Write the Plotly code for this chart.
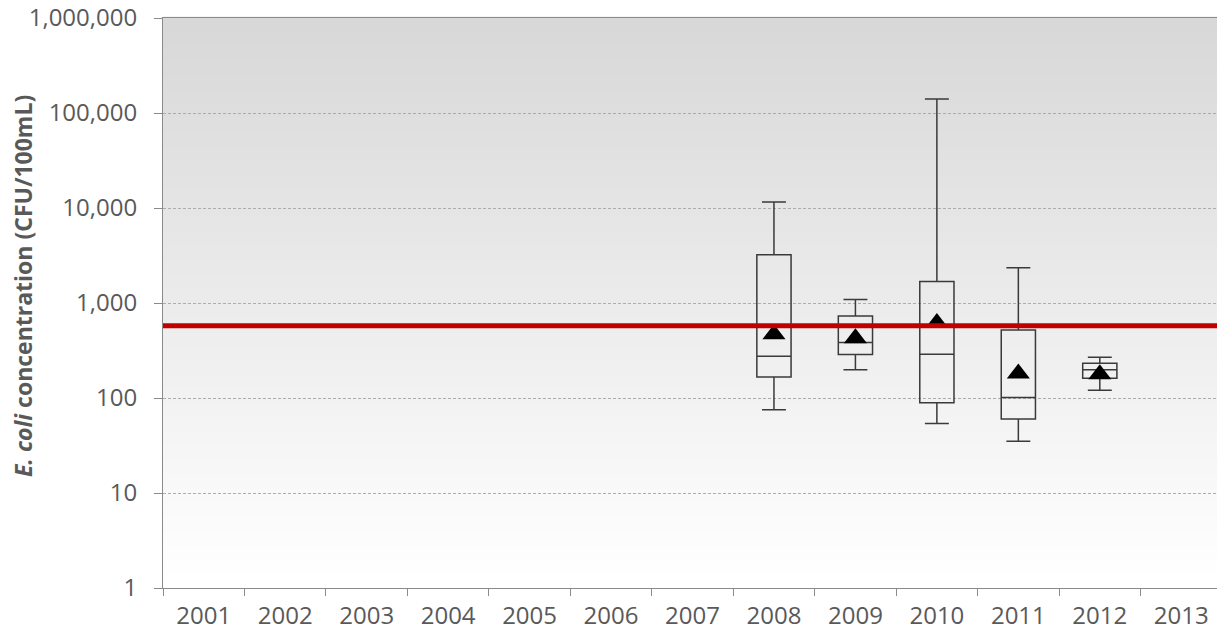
import plotly.graph_objects as go

years = [str(y) for y in range(2001, 2014)]
box_years = ["2008", "2009", "2010", "2011", "2012"]
whisker_low = [75, 198, 54, 35, 121]
q1 = [166, 287, 89, 60, 161]
median = [275, 383, 289, 101, 198]
q3 = [3220, 728, 1680, 519, 232]
whisker_high = [11600, 1090, 140000, 2350, 269]
means = [470, 425, 615, 181, 178]
threshold = 576

ytick_vals = [1, 10, 100, 1000, 10000, 100000, 1000000]
ytick_text = ["1", "10", "100", "1,000", "10,000", "100,000", "1,000,000"]

fig = go.Figure()

fig.add_trace(go.Box(
    x=box_years, q1=q1, median=median, q3=q3,
    lowerfence=whisker_low, upperfence=whisker_high,
    fillcolor="rgba(0,0,0,0)", line=dict(color="#3a3a3a", width=1.5),
    whiskerwidth=0.7, width=0.42, boxpoints=False, showlegend=False,
    hoverinfo="skip",
))

fig.add_trace(go.Scatter(
    x=box_years, y=means, mode="markers",
    marker=dict(symbol="triangle-up", size=20, color="black"),
    showlegend=False, hoverinfo="skip",
))

# gradient background strips
n = 80
shapes = []
for i in range(n):
    frac = i / (n - 1)
    g = int(round(216 + (255 - 216) * (1 - frac)))
    shapes.append(dict(
        type="rect", xref="paper", yref="paper",
        x0=0, x1=1, y0=i / n, y1=(i + 1) / n + 0.002,
        fillcolor=f"rgb({g},{g},{g})", line=dict(width=0), layer="below",
    ))
shapes.append(dict(
    type="line", xref="paper", yref="y", x0=0, x1=1,
    y0=threshold, y1=threshold, line=dict(color="#c00000", width=5), layer="above",
))

fig.update_layout(
    width=1217, height=629,
    margin=dict(l=155, r=3, t=10, b=49, autoexpand=False),
    paper_bgcolor="white", plot_bgcolor="white",
    shapes=shapes,
    font=dict(family="Open Sans", color="#595959", size=24),
    annotations=[dict(
        text="<b><i>E. coli</i> concentration (CFU/100mL)</b>",
        xref="paper", yref="paper", x=-0.132, y=0.53, textangle=-90,
        showarrow=False, font=dict(size=23, color="#595959"),
        xanchor="center", yanchor="middle",
    )],
)

fig.update_xaxes(
    type="category", categoryorder="array", categoryarray=years,
    range=[-0.5, 12.5], tickson="boundaries", ticks="outside", ticklen=7,
    tickcolor="#8a8a8a", showline=True, linecolor="#8a8a8a", linewidth=1,
    mirror=True, showgrid=False, automargin=False, ticklabelstandoff=6,
    tickfont=dict(size=24, color="#595959"),
)

fig.update_yaxes(
    type="log", range=[0, 6], tickvals=ytick_vals, ticktext=ytick_text,
    ticks="outside", ticklen=8, tickcolor="#8a8a8a", showline=True,
    linecolor="#8a8a8a", linewidth=1, showgrid=True, gridcolor="#acacac",
    griddash="3px,2px", gridwidth=1, zeroline=False, automargin=False,
    ticklabelstandoff=12, ticklabeloverflow="allow",
    tickfont=dict(size=24, color="#595959"),
)

fig.write_html("out.html")
